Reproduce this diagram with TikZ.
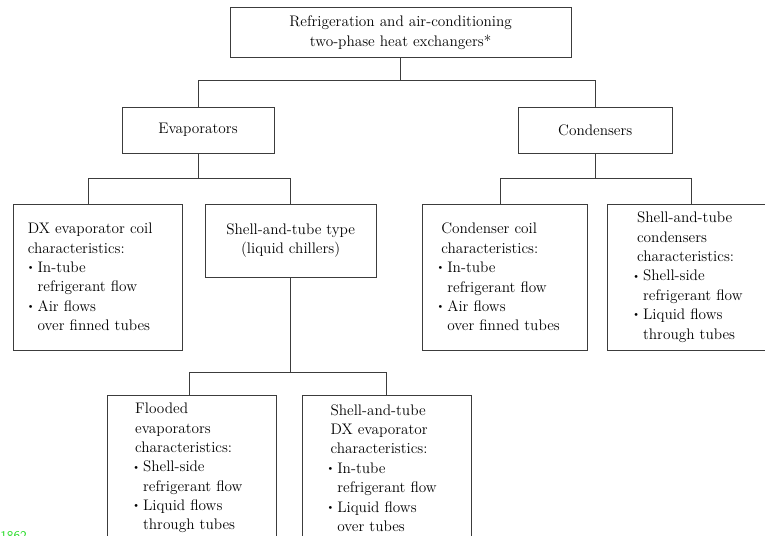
\documentclass[tikz,border=0pt]{standalone}
\usepackage{fontspec}
\usepackage{tikz}
\usetikzlibrary{positioning, calc}
\definecolor{linegray}{RGB}{60,60,60}
\definecolor{figgreen}{RGB}{40,220,40}
\newcommand{\bitem}[2]{\mbox{\makebox[2.9mm][l]{\raisebox{0.25ex}{\scalebox{0.7}{\textbullet}}}#1}\\\mbox{\hspace*{2.9mm}#2}}
\newcommand{\headln}[2]{\mbox{\hspace*{#1}#2}}

\begin{document}
\begin{tikzpicture}[
  node distance=13mm,
  box/.style={rectangle, draw=linegray, line width=0.7pt, align=center,
              font={\fontsize{11.5}{14.6}\selectfont}},
  catbox/.style={box, minimum height=12.2mm},
  listbox/.style={box, align=left, minimum height=38.6mm},
  link/.style={draw=linegray, line width=0.7pt}
]
\useasboundingbox (-106.0mm,8.6mm) rectangle (96.4mm,-133.2mm);

% Top level
\node[box, minimum width=90.2mm, minimum height=13mm] (root) at (0,0)
  {Refrigeration and air-conditioning\\two-phase heat exchangers*};

% Evaporators and condensers
\node[catbox, minimum width=40.2mm, below=13mm of root, xshift=-53.6mm] (evap) {Evaporators};
\node[catbox, minimum width=40.7mm, below=13mm of root, xshift=51.5mm] (cond) {Condensers};

% Evaporator types
\node[listbox, inner xsep=3.4mm, text width=37.7mm, below=13.2mm of evap, xshift=-26.5mm] (dxcoil)
  {\headln{0.3mm}{DX evaporator coil}\\\headln{0.3mm}{characteristics:}\\
   \bitem{In-tube}{refrigerant flow}\\\bitem{Air flows}{over finned tubes}};
\node[box, minimum width=45.2mm, minimum height=19.3mm, below=13.2mm of evap, xshift=24.5mm] (shelltype)
  {Shell-and-tube type\\(liquid chillers)};

% Condenser types
\node[listbox, inner xsep=3.7mm, text width=36.3mm, below=13.2mm of cond, xshift=-23.9mm] (ccoil)
  {\headln{1.3mm}{Condenser coil}\\\headln{1.3mm}{characteristics:}\\
   \bitem{In-tube}{refrigerant flow}\\\bitem{Air flows}{over finned tubes}};
\node[listbox, inner xsep=6.6mm, text width=31.3mm, below=13.2mm of cond, xshift=25.4mm] (scond)
  {\headln{1.3mm}{Shell-and-tube}\\\headln{1.3mm}{condensers}\\\headln{1.3mm}{characteristics:}\\
   \bitem{Shell-side}{refrigerant flow}\\\bitem{Liquid flows}{through tubes}};

% Liquid chiller types
\node[listbox, inner xsep=6.6mm, text width=31.5mm, below=31mm of shelltype, xshift=-26.2mm] (flooded)
  {\headln{0.8mm}{Flooded}\\\headln{0.8mm}{evaporators}\\\headln{0.8mm}{characteristics:}\\
   \bitem{Shell-side}{refrigerant flow}\\\bitem{Liquid flows}{through tubes}};
\node[listbox, inner xsep=6.4mm, text width=31.9mm, below=31mm of shelltype, xshift=25.4mm] (sdx)
  {\headln{1.1mm}{Shell-and-tube}\\\headln{1.1mm}{DX evaporator}\\\headln{1.1mm}{characteristics:}\\
   \bitem{In-tube}{refrigerant flow}\\\bitem{Liquid flows}{over tubes}};

% Bus points
\coordinate (b1) at ($(root.south)+(0,-6.1mm)$);
\coordinate (b2) at ($(evap.south)+(0,-6.6mm)$);
\coordinate (b3) at ($(cond.south)+(0,-6.6mm)$);
\coordinate (b4) at ($(shelltype.south)+(0,-25.1mm)$);

% Connectors
\draw[link] (root.south) -- (b1);
\draw[link] (evap.north) |- (b1) -| (cond.north);
\draw[link] (evap.south) -- (b2);
\draw[link] ([xshift=-2.4mm]dxcoil.north) |- (b2) -| (shelltype.north);
\draw[link] (cond.south) -- (b3);
\draw[link] ([xshift=-1.2mm]ccoil.north) |- (b3) -| (scond.north);
\draw[link] (shelltype.south) -- (b4);
\draw[link] ([xshift=-0.7mm]flooded.north) |- (b4) -| (sdx.north);

% Figure number
\node[anchor=base west, inner sep=0pt, font={\sffamily\fontsize{10}{12}\selectfont}, text=figgreen] (figno)
  at (-106.0mm,-134.3mm) {1862};

\end{tikzpicture}
\end{document}
